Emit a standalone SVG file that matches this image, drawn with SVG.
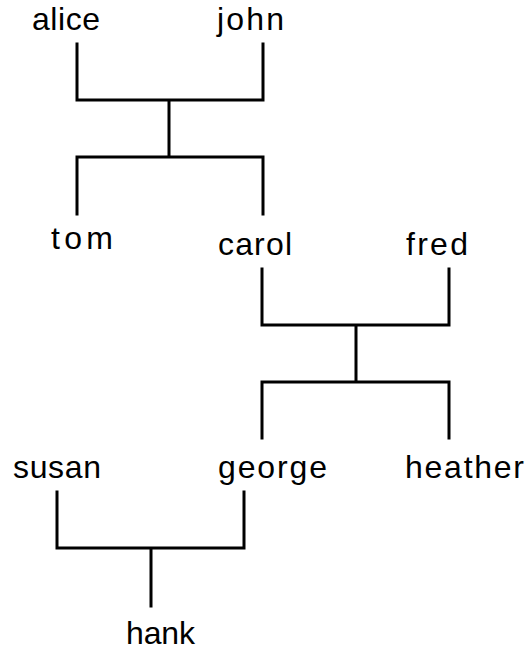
<svg xmlns="http://www.w3.org/2000/svg" width="531" height="651" viewBox="0 0 531 651">
<style>
text{font-family:"Liberation Sans",Arial,sans-serif;font-size:32px;fill:#000}
.c{fill:none;stroke:#000;stroke-width:3;stroke-linecap:square}
</style>
<rect width="531" height="651" fill="#fff"/>
<g id="connectors">
<path class="c" d="M77,44V100H263V44M169,100V157M77,214V157H263V214"/>
<path class="c" d="M262,269V325H449V269M356,325V382M262,438V382H449V438"/>
<path class="c" d="M57,492V548H244V492M151,548V606"/>
</g>
<g id="alice"><text x="32" y="30" textLength="68" lengthAdjust="spacing">alice</text></g>
<g id="john"><text x="217" y="30" textLength="67" lengthAdjust="spacing">john</text></g>
<g id="tom"><text x="51" y="249" textLength="62" lengthAdjust="spacing">tom</text></g>
<g id="carol"><text x="218" y="255" textLength="74" lengthAdjust="spacing">carol</text></g>
<g id="fred"><text x="406" y="255" textLength="62" lengthAdjust="spacing">fred</text></g>
<g id="susan"><text x="13" y="478" textLength="88" lengthAdjust="spacing">susan</text></g>
<g id="george"><text x="218" y="478" textLength="109" lengthAdjust="spacing">george</text></g>
<g id="heather"><text x="405" y="478" textLength="119" lengthAdjust="spacing">heather</text></g>
<g id="hank"><text x="126" y="644" textLength="69" lengthAdjust="spacing">hank</text></g>
</svg>
